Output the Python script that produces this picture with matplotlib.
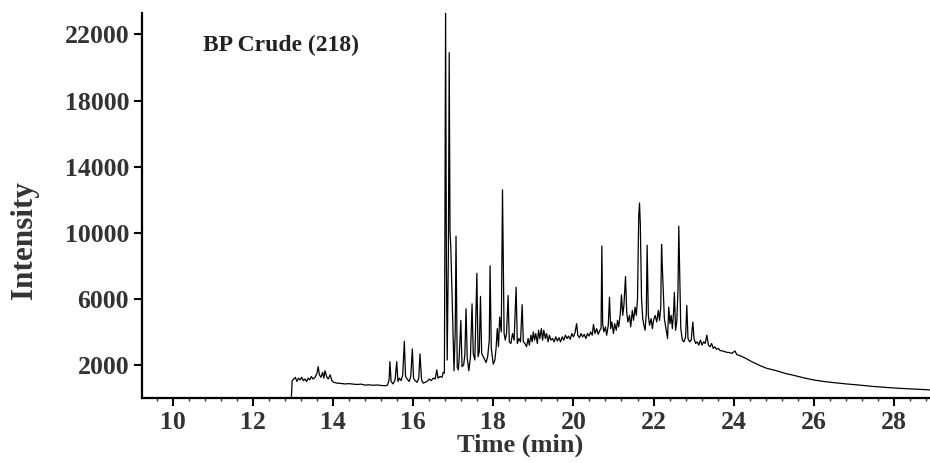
import matplotlib
matplotlib.use("Agg")
import matplotlib.pyplot as plt
from matplotlib.ticker import MultipleLocator

# ---- data ----
time_min = [
    9.22, 12.96, 12.98, 13.02, 13.06, 13.10, 13.14, 13.18, 13.22, 13.26, 13.30, 13.34, 13.38, 13.42, 13.46,
    13.50, 13.55, 13.60, 13.63, 13.66, 13.70, 13.74, 13.77, 13.80, 13.84, 13.88, 13.93, 13.97, 14.02, 14.10,
    14.20, 14.30, 14.40, 14.50, 14.60, 14.70, 14.80, 14.90, 15.00, 15.10, 15.20, 15.30, 15.36, 15.40, 15.42,
    15.45, 15.50, 15.55, 15.59, 15.62, 15.66, 15.70, 15.74, 15.78, 15.81, 15.85, 15.90, 15.94, 15.98, 16.01,
    16.05, 16.10, 16.14, 16.17, 16.21, 16.25, 16.30, 16.35, 16.40, 16.45, 16.50, 16.55, 16.59, 16.62, 16.67,
    16.72, 16.75, 16.78, 16.79, 16.81, 16.83, 16.85, 16.88, 16.90, 16.92, 16.94, 16.97, 17.00, 17.02, 17.05,
    17.07, 17.10, 17.13, 17.15, 17.19, 17.22, 17.26, 17.29, 17.32, 17.35, 17.39, 17.43, 17.47, 17.50, 17.54,
    17.59, 17.62, 17.65, 17.68, 17.71, 17.75, 17.79, 17.82, 17.86, 17.90, 17.92, 17.95, 18.00, 18.04, 18.07,
    18.10, 18.13, 18.16, 18.20, 18.23, 18.25, 18.27, 18.30, 18.33, 18.37, 18.40, 18.44, 18.48, 18.52, 18.57,
    18.60, 18.64, 18.68, 18.72, 18.75, 18.79, 18.83, 18.87, 18.90, 18.94, 18.97, 19.00, 19.03, 19.06, 19.10,
    19.13, 19.16, 19.20, 19.23, 19.26, 19.30, 19.33, 19.37, 19.40, 19.44, 19.48, 19.52, 19.56, 19.60, 19.64,
    19.68, 19.72, 19.76, 19.80, 19.84, 19.88, 19.92, 19.96, 20.00, 20.04, 20.08, 20.11, 20.15, 20.19, 20.23,
    20.27, 20.31, 20.35, 20.39, 20.43, 20.47, 20.50, 20.54, 20.58, 20.62, 20.66, 20.69, 20.71, 20.73, 20.76,
    20.80, 20.83, 20.87, 20.90, 20.93, 20.96, 21.00, 21.03, 21.07, 21.10, 21.13, 21.17, 21.20, 21.23, 21.26,
    21.30, 21.33, 21.36, 21.40, 21.43, 21.47, 21.50, 21.54, 21.57, 21.60, 21.63, 21.65, 21.67, 21.70, 21.73,
    21.76, 21.79, 21.82, 21.84, 21.87, 21.90, 21.94, 21.97, 22.00, 22.04, 22.08, 22.12, 22.15, 22.18, 22.20,
    22.22, 22.24, 22.27, 22.31, 22.35, 22.38, 22.41, 22.44, 22.47, 22.50, 22.52, 22.55, 22.58, 22.61, 22.63,
    22.65, 22.68, 22.72, 22.76, 22.80, 22.83, 22.86, 22.90, 22.94, 22.98, 23.01, 23.05, 23.09, 23.13, 23.17,
    23.21, 23.25, 23.29, 23.33, 23.37, 23.41, 23.45, 23.49, 23.53, 23.57, 23.62, 23.66, 23.72, 23.78, 23.84,
    23.90, 23.96, 24.03, 24.08, 24.16, 24.30, 24.45, 24.66, 24.82, 25.07, 25.30, 25.50, 25.75, 26.00, 26.25,
    26.50, 26.82, 27.10, 27.48, 27.80, 28.15, 28.50, 28.90,
]
intensity = [
    0, 0, 1050, 1150, 1250, 1000, 1200, 1100, 1250, 1050, 1150, 1000, 1200, 1100, 1300,
    1150, 1250, 1500, 1900, 1400, 1250, 1550, 1200, 1650, 1300, 1150, 1400, 1050, 950, 900,
    880, 850, 870, 840, 820, 840, 780, 800, 770, 790, 760, 740, 780, 1100, 2200,
    1000, 850, 1100, 2200, 1000, 1200, 1050, 1400, 3430, 1300, 1150, 1000, 1300, 2970, 1200,
    1050, 950, 1200, 2670, 1100, 900, 950, 1000, 1150, 1050, 1200, 1150, 1700, 1200, 1300,
    1250, 1550, 1500, 8100, 23400, 8000, 2300, 9000, 20900, 10100, 9100, 6300, 3500, 1650, 4000,
    9800, 1850, 1700, 2500, 4700, 1900, 2000, 2600, 5400, 2400, 1650, 2500, 5700, 2700, 2300,
    7550, 2500, 2800, 6150, 2700, 2500, 2300, 2150, 2500, 3500, 8000, 3000, 2050, 2300, 3000,
    4200, 3100, 4900, 4000, 12600, 8000, 3900, 3500, 3900, 6200, 3400, 3300, 3900, 3500, 6700,
    3300, 3600, 3400, 5650, 3400, 3300, 3100, 3600, 3200, 3800, 3400, 4000, 3500, 3900, 3300,
    4100, 3600, 4200, 3500, 4100, 3600, 3900, 3400, 3800, 3500, 3600, 3400, 3700, 3450, 3650,
    3400, 3700, 3500, 3800, 3600, 3750, 3550, 3900, 3700, 3950, 4500, 3800, 3650, 3900, 3700,
    3850, 3600, 3900, 3750, 4000, 3800, 4450, 3900, 4200, 3850, 4100, 4200, 9200, 4500, 4000,
    4300, 3800, 4400, 6100, 4200, 4600, 3900, 4500, 4100, 4700, 4300, 5100, 6250, 5000, 5600,
    7350, 5200, 4600, 5000, 4300, 5300, 4700, 5500, 5000, 6000, 11000, 11800, 10500, 6000, 4800,
    4400, 4100, 5200, 9250, 5000, 4400, 4800, 4200, 4700, 5000, 4600, 5300, 4700, 5500, 9300,
    7900, 6700, 4800, 4200, 3600, 5500, 4500, 5000, 4200, 5200, 6400, 4100, 4600, 6500, 10400,
    8000, 4200, 3500, 3400, 3700, 5600, 3600, 3400, 3500, 4600, 3600, 3300, 3400, 3200, 3500,
    3200, 3400, 3300, 3800, 3200, 3100, 3300, 3000, 3100, 2950, 3000, 2870, 2850, 2800, 2760,
    2750, 2700, 2850, 2620, 2560, 2400, 2200, 1960, 1800, 1650, 1480, 1370, 1220, 1090, 1000,
    930, 850, 790, 700, 640, 585, 540, 490,
]
x_ticks = [10, 12, 14, 16, 18, 20, 22, 24, 26, 28]
y_ticks = [2000, 6000, 10000, 14000, 18000, 22000]
annotation = "BP Crude (218)"

# ---- figure ----
plt.rcParams['font.family'] = ['Liberation Serif', 'DejaVu Serif']
plt.rcParams['font.weight'] = 'bold'

fig = plt.figure(figsize=(9.30, 4.63), dpi=100)
ax = fig.add_axes([141.5 / 930, 65 / 463, 1 - 141.5 / 930, 385 / 463])

ax.plot(time_min, intensity, color='black', lw=0.9, clip_on=True)

ax.set_xlim(9.22, 28.9)
ax.set_ylim(0, 23300)

for s in ['top', 'right']:
    ax.spines[s].set_visible(False)
for s in ['left', 'bottom']:
    ax.spines[s].set_linewidth(1.6)
    ax.spines[s].set_color('black')

ax.set_xticks(x_ticks)
ax.set_xticklabels([str(v) for v in x_ticks])
ax.xaxis.set_minor_locator(MultipleLocator(0.4))
ax.set_yticks(y_ticks)
ax.set_yticklabels([str(v) for v in y_ticks])

ax.tick_params(axis='both', which='major', direction='out', length=6, width=1.5,
               labelsize=18.5, labelcolor='#333333', color='black')
ax.tick_params(axis='x', which='major', pad=3.5)
ax.tick_params(axis='y', which='major', pad=3)
ax.tick_params(axis='x', which='minor', direction='out', length=2.5, width=1.0, color='#333333')
for lbl in ax.get_xticklabels() + ax.get_yticklabels():
    lbl.set_fontweight('bold')

fig.text(520 / 930, 1 - 445 / 463, "Time (min)", ha='center', va='center',
         fontsize=19, fontweight='bold', color='#333333')
fig.text(25 / 930, 1 - 240 / 463, "Intensity", ha='center', va='center', rotation=90,
         fontsize=22.5, fontweight='bold', color='#333333')
fig.text(203 / 930, 1 - 51 / 463, annotation, ha='left', va='baseline',
         fontsize=17, fontweight='bold', color='#222222')

fig.savefig("out.png", dpi=100)
